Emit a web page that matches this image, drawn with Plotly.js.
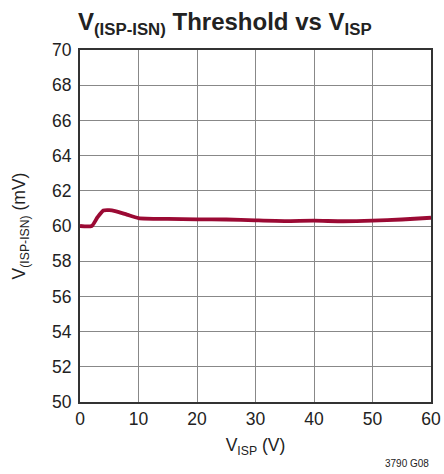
<!DOCTYPE html>
<html><head><meta charset="utf-8">
<script src="https://cdn.plot.ly/plotly-3.0.1.min.js"></script>
<style>body{margin:0;background:#fff}#c{width:444px;height:474px}</style>
</head><body><div id="c"></div>
<script>
const vispV = [0, 2, 3, 4, 5, 6, 8, 10, 15, 20, 25, 30, 35, 40, 45, 50, 55, 60];
const thresholdMV = [60.0, 60.0, 60.5, 60.88, 60.9, 60.85, 60.65, 60.45, 60.4, 60.38, 60.37, 60.32, 60.28, 60.3, 60.27, 60.3, 60.37, 60.47];
const xTicks = [0, 10, 20, 30, 40, 50, 60];
const yTicks = [50, 52, 54, 56, 58, 60, 62, 64, 66, 68, 70];
const F = '"Liberation Sans Narrow", "Liberation Sans", Arial, sans-serif';
Plotly.newPlot('c', [{
  x: vispV, y: thresholdMV, mode: 'lines', line: {color: '#9b0a34', width: 3.8, shape: 'spline', smoothing: 0.6},
  hoverinfo: 'skip'
}], {
  width: 444, height: 474,
  margin: {l: 80, r: 13, t: 50, b: 72},
  paper_bgcolor: '#fff', plot_bgcolor: '#fff',
  showlegend: false,
  font: {family: F, color: '#222', size: 17},
  title: {text: '<b>V<sub>(ISP-ISN)</sub> Threshold vs V<sub>ISP</sub></b>', x: 78/444, xanchor: 'left', xref: 'container', y: 1 - 22/474, yanchor: 'middle', font: {family: F, size: 24, color: '#222'}},
  xaxis: {range: [0, 60], tickvals: xTicks, showgrid: true, gridcolor: '#888', gridwidth: 1, zeroline: false,
    showline: true, linecolor: '#333', linewidth: 2, mirror: true, ticks: '', ticklen: 0,
    tickfont: {size: 17.5, family: F}, title: {text: 'V<sub>ISP</sub> (V)', standoff: 11, font: {size: 17.5, family: F}}},
  yaxis: {range: [50, 70], tickvals: yTicks, showgrid: true, gridcolor: '#888', gridwidth: 1, zeroline: false,
    showline: true, linecolor: '#333', linewidth: 2, mirror: true, ticks: '', ticklen: 0, ticklabelstandoff: 3,
    tickfont: {size: 17.5, family: F}, title: {text: 'V<sub>(ISP-ISN)</sub> (mV)', standoff: 22, font: {size: 17.5, family: F}}},
  annotations: [{text: '3790 G08', xref: 'paper', yref: 'paper', x: 1, y: -0.175, xanchor: 'right', yanchor: 'middle', showarrow: false, font: {size: 10, family: F, color: '#222'}}]
}, {displayModeBar: false, staticPlot: true});
</script></body></html>
